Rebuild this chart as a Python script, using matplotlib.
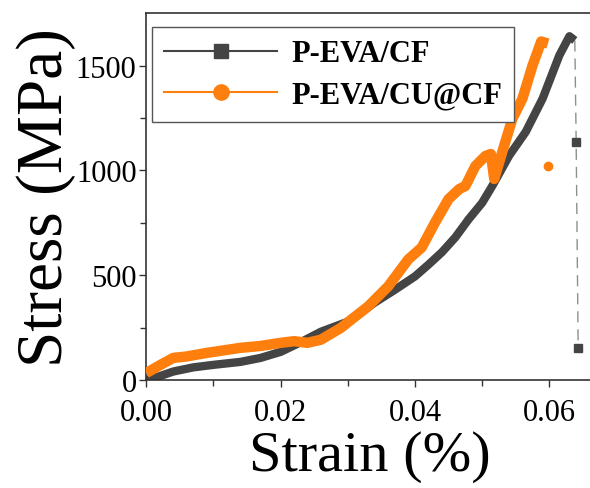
import matplotlib.pyplot as plt
from matplotlib.lines import Line2D

plt.rcParams['font.family'] = ['Liberation Serif', 'DejaVu Serif']

# P-EVA/CF stress-strain curve
cf_strain = [0.0, 0.002, 0.004, 0.007, 0.010, 0.014, 0.017, 0.020, 0.023, 0.026,
             0.030, 0.034, 0.037, 0.040, 0.042, 0.044, 0.046, 0.048, 0.050,
             0.0515, 0.054, 0.0565, 0.059, 0.0615, 0.063, 0.0638]
cf_stress = [0, 18, 40, 60, 72, 86, 105, 134, 180, 230,
             278, 369, 430, 494, 550, 609, 680, 767, 845,
             925, 1069, 1184, 1342, 1549, 1640, 1620]
# after failure
cf_break_strain = [0.0638, 0.0640, 0.0643]
cf_break_stress = [1620, 1136, 153]

# P-EVA/CU@CF stress-strain curve
cu_strain = [0.0, 0.002, 0.004, 0.006, 0.009, 0.014, 0.017, 0.020, 0.022, 0.024,
             0.026, 0.029, 0.031, 0.033, 0.036, 0.039, 0.041, 0.043, 0.045,
             0.0466, 0.0475, 0.049, 0.0505, 0.0513, 0.0518, 0.053, 0.0545,
             0.056, 0.0575, 0.0588, 0.0598]
cu_stress = [33, 70, 105, 112, 129, 153, 162, 177, 185, 177,
             192, 249, 300, 350, 446, 575, 632, 752, 863,
             911, 925, 1021, 1069, 1078, 959, 1088, 1246,
             1342, 1500, 1615, 1605]
cu_break_strain = [0.0598]
cu_break_stress = [1021]

gray = '#444444'
orange = '#ff7f0e'

fig = plt.figure(figsize=(5.9, 4.89), dpi=100)
ax = fig.add_axes([0.248, 0.221, 0.757, 0.75])

ax.plot(cf_strain, cf_stress, color=gray, lw=6, solid_capstyle='butt', zorder=2)
ax.plot(cf_break_strain, cf_break_stress, color=gray, lw=1, ls=(0, (8, 5)), alpha=0.6, zorder=2)
ax.plot(cf_break_strain[1:], cf_break_stress[1:], 's', color=gray, ms=6, zorder=3)
ax.plot(cu_strain, cu_stress, color=orange, lw=7.5, solid_capstyle='butt', zorder=3)
ax.plot(cu_break_strain, cu_break_stress, 'o', color=orange, ms=6, zorder=3)

ax.set_xlim(0, 0.0665)
ax.set_ylim(0, 1750)
ax.set_xticks([0.0, 0.02, 0.04, 0.06])
ax.set_xticklabels(['0.00', '0.02', '0.04', '0.06'])
ax.set_xticks([0.01, 0.03, 0.05], minor=True)
ax.set_yticks([0, 500, 1000, 1500])
ax.set_yticks([250, 750, 1250], minor=True)
ax.tick_params(which='major', direction='out', length=5, width=1, labelsize=22, pad=2, color='#333333')
ax.tick_params(axis='x', which='major', pad=8)
ax.tick_params(which='minor', direction='out', length=4, width=1, color='#333333')
for s in ax.spines.values():
    s.set_color('#333333')
    s.set_linewidth(1.2)

ax.set_xlabel('Strain (%)', fontsize=42, labelpad=2)
ax.set_ylabel('Stress (MPa)', fontsize=47, labelpad=0)

handles = [
    Line2D([], [], color=gray, lw=1.5, marker='s', ms=10),
    Line2D([], [], color=orange, lw=1.5, marker='o', ms=11),
]
leg = ax.legend(handles, ['P-EVA/CF', 'P-EVA/CU@CF'], loc='upper left',
                bbox_to_anchor=(0.013, 0.962), borderaxespad=0, fancybox=False,
                framealpha=1, edgecolor='#555555', handlelength=3.7, handletextpad=0.45,
                borderpad=0.4, labelspacing=0.4,
                prop={'family': 'Liberation Serif', 'weight': 'bold', 'size': 22})
leg.get_frame().set_linewidth(1)

fig.savefig('out.png', dpi=100)
